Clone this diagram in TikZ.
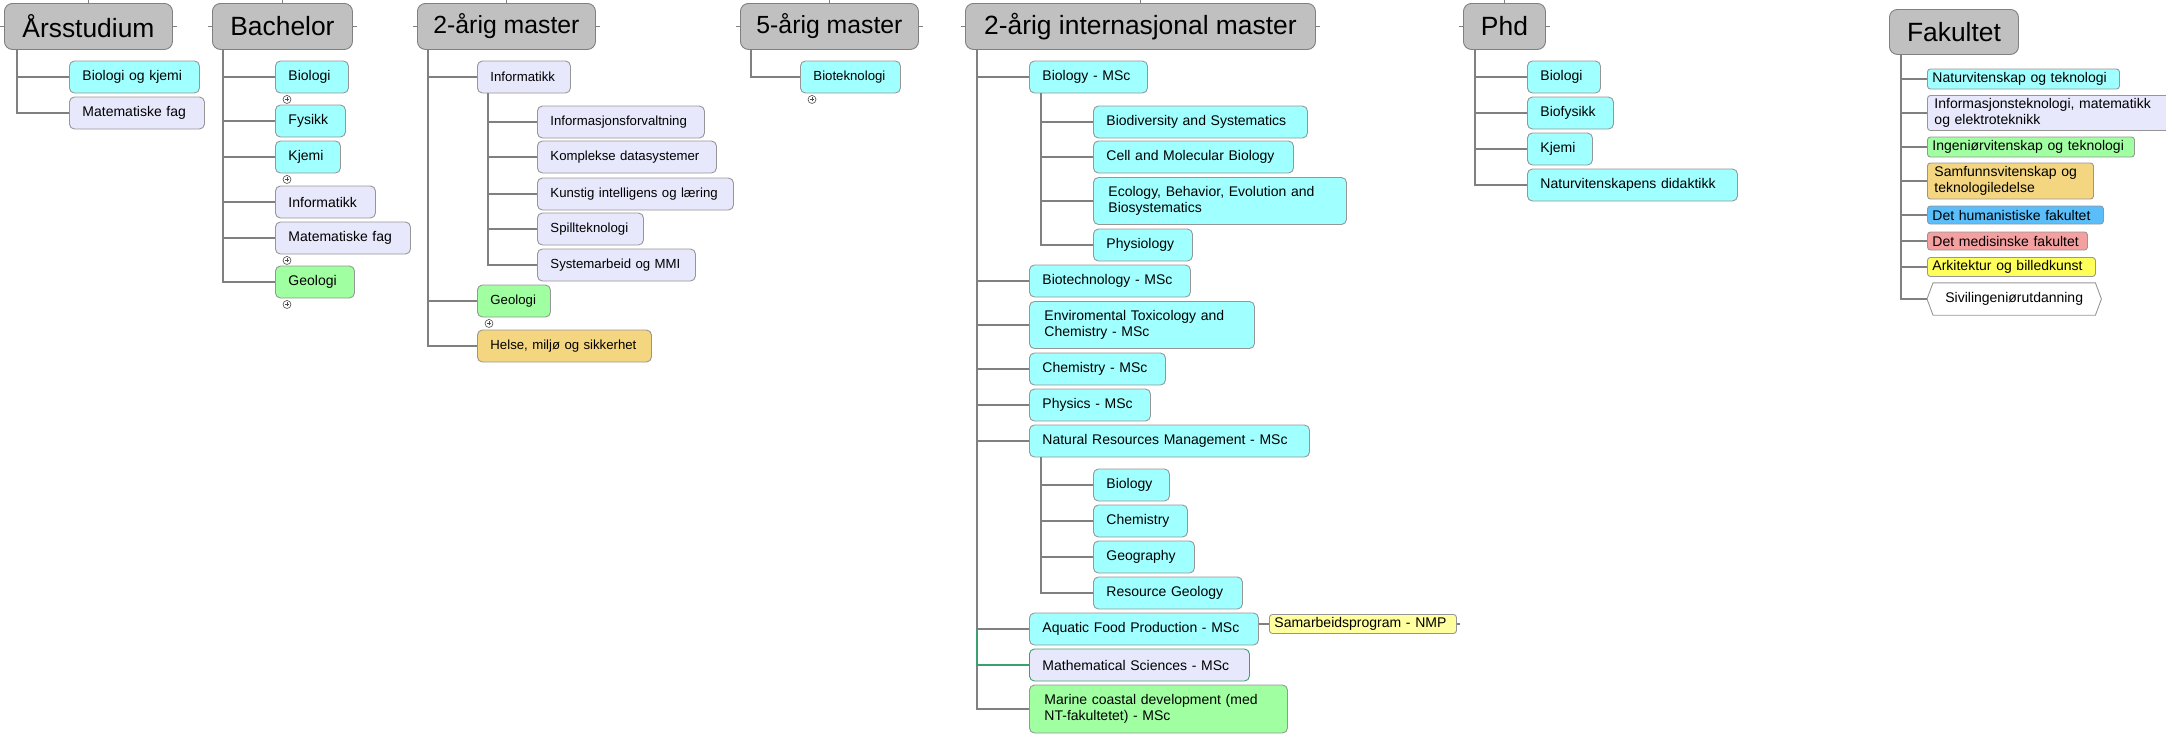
\documentclass[tikz,border=0pt]{standalone}
\usepackage{fontspec}
\setmainfont{Liberation Sans}

\definecolor{hdrgray}{RGB}{192,192,192}
\definecolor{linegray}{RGB}{128,128,128}
\definecolor{boxgray}{RGB}{150,150,150}
\definecolor{cyanbox}{RGB}{160,255,255}
\definecolor{lilabox}{RGB}{232,232,252}
\definecolor{greenbox}{RGB}{160,255,160}
\definecolor{tanbox}{RGB}{245,214,128}
\definecolor{nmpbox}{RGB}{255,255,160}
\definecolor{humbox}{RGB}{90,190,250}
\definecolor{medbox}{RGB}{245,160,160}
\definecolor{arkbox}{RGB}{255,255,90}
\definecolor{mathgreen}{RGB}{60,160,110}

\tikzset{
  hdr/.style={draw=linegray, fill=hdrgray, line width=0.9pt, rounded corners=8pt, anchor=north west,
    minimum height=46pt, inner sep=0pt, font=\fontsize{26.4}{30}\selectfont},
  hfont/.style={font=\fontsize{24.8}{28}\selectfont},
  prog/.style={draw=boxgray, line width=0.9pt, rounded corners=5pt, anchor=west, minimum height=32pt,
    inner xsep=13pt, inner ysep=2pt, align=left, font=\fontsize{14}{16}\selectfont},
  mfont/.style={font=\fontsize{13.2}{15}\selectfont},
  fakbox/.style={draw=boxgray, line width=0.9pt, rounded corners=3pt, anchor=west,
    inner xsep=5pt, inner ysep=1pt, align=left, font=\fontsize{14}{16}\selectfont},
  branch/.style={draw=linegray, line width=1.1pt},
  plusmark/.style={circle, draw=black!70, fill=white, line width=0.6pt, minimum size=8pt, inner sep=0pt,
    path picture={\draw[line width=0.7pt]
      ([xshift=-2pt]path picture bounding box.center) -- ([xshift=2pt]path picture bounding box.center)
      ([yshift=-2pt]path picture bounding box.center) -- ([yshift=2pt]path picture bounding box.center);}}
}

\begin{document}
\begin{tikzpicture}[x=1pt, y=-1pt]
  \useasboundingbox (0,0) rectangle (2166,734);

  % headers
  \node[hdr, minimum width=168pt] (ars) at (4,3) {Årsstudium};
  \node[hdr, minimum width=140pt] (bach) at (212,3) {Bachelor};
  \node[hdr, hfont, minimum width=178pt] (mast) at (417,3) {2-årig master};
  \node[hdr, hfont, minimum width=178pt] (fem) at (740,3) {5-årig master};
  \node[hdr, minimum width=350pt] (intl) at (965,3) {2-årig internasjonal master};
  \node[hdr, minimum width=82pt] (phd) at (1463,3) {Phd};
  \node[hdr, minimum width=129pt, minimum height=45pt] (fakh) at (1889,9) {Fakultet};
  \foreach \h in {ars,bach,mast,fem,intl,phd}
    \draw[branch] (\h.north) -- (\h.north |- 0,0) (\h.west) -- ++(-4,0) (\h.east) -- ++(4,0);

  % Årsstudium
  \coordinate (a0) at (17,49);
  \node[prog, fill=cyanbox, text width=104pt] (ars1) at (69,77) {Biologi og kjemi};
  \node[prog, fill=lilabox, text width=109pt] (ars2) at (69,113) {Matematiske fag};
  \foreach \n in {ars1,ars2}
    \draw[branch] (a0) |- (\n.west);

  % Bachelor
  \coordinate (b0) at (223,49);
  \node[prog, fill=cyanbox, text width=47pt] (b1) at (275,77) {Biologi};
  \node[prog, fill=cyanbox, text width=44pt] (b2) at (275,121) {Fysikk};
  \node[prog, fill=cyanbox, text width=39pt] (b3) at (275,157) {Kjemi};
  \node[prog, fill=lilabox, text width=74pt] (b4) at (275,202) {Informatikk};
  \node[prog, fill=lilabox, text width=109pt] (b5) at (275,238) {Matematiske fag};
  \node[prog, fill=greenbox, text width=53pt] (b6) at (275,282) {Geologi};
  \foreach \n in {1,...,6}
    \draw[branch] (b0) |- (b\n.west);

  % 2-årig master
  \coordinate (m0) at (428,49);
  \coordinate (m1t) at (488,93);
  \node[prog, mfont, fill=lilabox, text width=67pt] (m1) at (477,77) {Informatikk};
  \node[prog, mfont, fill=lilabox, text width=141pt] (m11) at (537,122) {Informasjonsforvaltning};
  \node[prog, mfont, fill=lilabox, text width=153pt] (m12) at (537,157) {Komplekse datasystemer};
  \node[prog, mfont, fill=lilabox, text width=170pt] (m13) at (537,194) {Kunstig intelligens og læring};
  \node[prog, mfont, fill=lilabox, text width=80pt] (m14) at (537,229) {Spillteknologi};
  \node[prog, mfont, fill=lilabox, text width=132pt] (m15) at (537,265) {Systemarbeid og MMI};
  \node[prog, mfont, fill=greenbox, text width=47pt] (m2) at (477,301) {Geologi};
  \node[prog, mfont, fill=tanbox, text width=148pt] (m3) at (477,346) {Helse, miljø og sikkerhet};
  \foreach \n in {1,2,3}
    \draw[branch] (m0) |- (m\n.west);
  \foreach \n in {1,...,5}
    \draw[branch] (m1t) |- (m1\n.west);

  % 5-årig master
  \coordinate (f0) at (751,49);
  \node[prog, mfont, fill=cyanbox, text width=74pt] (f1) at (800,77) {Bioteknologi};
  \draw[branch] (f0) |- (f1.west);

  % 2-årig internasjonal master
  \coordinate (i0) at (977,49);
  \coordinate (i1t) at (1041,93);
  \coordinate (i6t) at (1041,457);
  \node[prog, fill=cyanbox, text width=92pt] (i1) at (1029,77) {Biology - MSc};
  \node[prog, fill=cyanbox, text width=188pt] (i11) at (1093,122) {Biodiversity and Systematics};
  \node[prog, fill=cyanbox, text width=174pt] (i12) at (1093,157) {Cell and Molecular Biology};
  \node[prog, fill=cyanbox, text width=223pt, inner xsep=15pt, minimum height=47pt] (i13) at (1093,201)
    {Ecology, Behavior, Evolution and\\Biosystematics};
  \node[prog, fill=cyanbox, text width=73pt] (i14) at (1093,245) {Physiology};
  \node[prog, fill=cyanbox, text width=135pt] (i2) at (1029,281) {Biotechnology - MSc};
  \node[prog, fill=cyanbox, text width=195pt, inner xsep=15pt, minimum height=47pt] (i3) at (1029,325)
    {Enviromental Toxicology and\\Chemistry - MSc};
  \node[prog, fill=cyanbox, text width=110pt] (i4) at (1029,369) {Chemistry - MSc};
  \node[prog, fill=cyanbox, text width=95pt] (i5) at (1029,405) {Physics - MSc};
  \node[prog, fill=cyanbox, text width=254pt] (i6) at (1029,441) {Natural Resources Management - MSc};
  \node[prog, fill=cyanbox, text width=50pt] (i61) at (1093,485) {Biology};
  \node[prog, fill=cyanbox, text width=68pt] (i62) at (1093,521) {Chemistry};
  \node[prog, fill=cyanbox, text width=75pt] (i63) at (1093,557) {Geography};
  \node[prog, fill=cyanbox, text width=123pt] (i64) at (1093,593) {Resource Geology};
  \node[prog, fill=cyanbox, text width=203pt] (i7) at (1029,629) {Aquatic Food Production - MSc};
  \node[fakbox, fill=nmpbox, text width=177pt, minimum height=19pt] (i71) at (1269,624) {Samarbeidsprogram - NMP};
  \node[prog, fill=lilabox, draw=mathgreen, text width=194pt] (i8) at (1029,665) {Mathematical Sciences - MSc};
  \node[prog, fill=greenbox, text width=228pt, inner xsep=15pt, minimum height=48pt] (i9) at (1029,709)
    {Marine coastal development (med\\NT-fakultetet) - MSc};
  \foreach \n in {1,...,9}
    \draw[branch] (i0) |- (i\n.west);
  \foreach \n in {1,...,4}
    \draw[branch] (i1t) |- (i1\n.west);
  \foreach \n in {1,...,4}
    \draw[branch] (i6t) |- (i6\n.west);
  \draw[branch, draw=mathgreen] (i0 |- i7.west) |- (i8.west);
  \draw[branch] (i7.east |- i71.west) -- (i71.west) (i71.east) -- ++(3,0);

  % Phd
  \coordinate (p0) at (1475,49);
  \node[prog, fill=cyanbox, text width=47pt] (p1) at (1527,77) {Biologi};
  \node[prog, fill=cyanbox, text width=60pt] (p2) at (1527,113) {Biofysikk};
  \node[prog, fill=cyanbox, text width=39pt] (p3) at (1527,149) {Kjemi};
  \node[prog, fill=cyanbox, text width=184pt] (p4) at (1527,185) {Naturvitenskapens didaktikk};
  \foreach \n in {1,...,4}
    \draw[branch] (p0) |- (p\n.west);

  % Fakultet
  \coordinate (k0) at (1901,54);
  \node[fakbox, fill=cyanbox, text width=182pt, minimum height=20pt] (k1) at (1927,79) {Naturvitenskap og teknologi};
  \node[fakbox, fill=lilabox, text width=228pt, inner xsep=7pt, minimum height=35pt] (k2) at (1927,113)
    {Informasjonsteknologi, matematikk\\og elektroteknikk};
  \node[fakbox, fill=greenbox, text width=197pt, minimum height=20pt] (k3) at (1927,147) {Ingeniørvitenskap og teknologi};
  \node[fakbox, fill=tanbox, text width=152pt, inner xsep=7pt, minimum height=36pt] (k4) at (1927,181)
    {Samfunnsvitenskap og\\teknologiledelse};
  \node[fakbox, fill=humbox, text width=166pt, minimum height=18pt] (k5) at (1927,215) {Det humanistiske fakultet};
  \node[fakbox, fill=medbox, text width=150pt, minimum height=18pt] (k6) at (1927,241) {Det medisinske fakultet};
  \node[fakbox, fill=arkbox, text width=158pt, minimum height=19pt] (k7) at (1927,267) {Arkitektur og billedkunst};
  \node[anchor=west, minimum width=174pt, minimum height=32pt, inner sep=0pt,
    font=\fontsize{14}{16}\selectfont] (k8) at (1927,299) {Sivilingeniørutdanning};
  \draw[draw=boxgray, line width=0.9pt] (k8.west) -- ([xshift=6pt]k8.north west) -- ([xshift=-6pt]k8.north east)
    -- (k8.east) -- ([xshift=-6pt]k8.south east) -- ([xshift=6pt]k8.south west) -- cycle;
  \foreach \n in {1,...,8}
    \draw[branch] (k0) |- (k\n.west);

  % expand markers
  \foreach \n in {b1,b3,b5,b6,m2,f1}
    \node[plusmark] (\n x) at ([shift={(12,6)}]\n.south west) {};
\end{tikzpicture}
\end{document}
